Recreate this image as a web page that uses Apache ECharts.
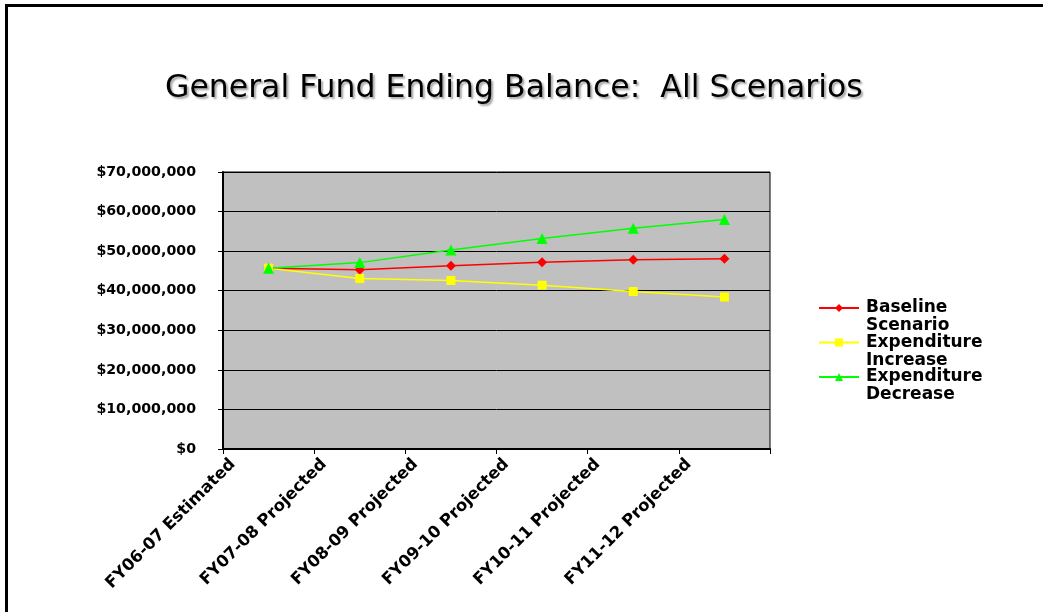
<!DOCTYPE html>
<html>
<head>
<meta charset="utf-8">
<script src="https://cdn.jsdelivr.net/npm/echarts@6/dist/echarts.min.js"></script>
<style>
  html, body { margin: 0; padding: 0; background: #fff; }
  #chart { position: absolute; left: 0; top: 0; width: 1043px; height: 612px; }
  #frame { position: absolute; left: 5px; top: 4px; width: 1100px; height: 700px;
           border-top: 3px solid #000; border-left: 3px solid #000; pointer-events: none; }
</style>
</head>
<body>
<div id="chart"></div>
<div id="frame"></div>
<script>
const categories = ['FY06-07 Estimated', 'FY07-08 Projected', 'FY08-09 Projected',
                    'FY09-10 Projected', 'FY10-11 Projected', 'FY11-12 Projected'];
const baseline = [45700000, 45300000, 46300000, 47200000, 47800000, 48100000];
const expIncrease = [45700000, 43100000, 42600000, 41400000, 39800000, 38400000];
const expDecrease = [45700000, 47100000, 50300000, 53200000, 55800000, 58000000];
const yTicks = { min: 0, max: 70000000, interval: 10000000 };

const boldFont = 'DejaVu Sans';
const chart = echarts.init(document.getElementById('chart'));

function money(v) {
  return '$' + String(Math.round(v)).replace(/\B(?=(\d{3})+(?!\d))/g, ',');
}

chart.setOption({
  backgroundColor: '#ffffff',
  animation: false,
  title: {
    text: 'General Fund Ending Balance:  All Scenarios',
    left: 165,
    top: 73,
    padding: 0,
    textStyle: {
      fontFamily: 'DejaVu Sans', fontWeight: 'normal', fontSize: 31.5, color: '#000',
      textShadowColor: 'rgba(0,0,0,0.35)', textShadowOffsetX: 2, textShadowOffsetY: 2, textShadowBlur: 2
    }
  },
  grid: {
    left: 223, top: 172, width: 547, height: 277,
    show: true, backgroundColor: '#C0C0C0', borderColor: '#000', borderWidth: 1
  },
  legend: {
    orient: 'vertical',
    left: 818,
    top: 281,
    padding: 0,
    itemWidth: 40,
    itemHeight: 10,
    itemGap: -19.5,
    data: ['Baseline Scenario', 'Expenditure Increase', 'Expenditure Decrease'],
    formatter: function (name) { return '\n' + name.replace(' ', '\n'); },
    textStyle: {
      fontFamily: boldFont, fontWeight: 'bold', fontSize: 17, color: '#000',
      lineHeight: 18, padding: [0, 0, 0, 2]
    }
  },
  xAxis: {
    type: 'category',
    data: categories,
    boundaryGap: true,
    axisLine: { show: true, lineStyle: { color: '#000', width: 2 } },
    axisTick: { show: true, inside: false, length: 5, lineStyle: { color: '#000', width: 1 } },
    axisLabel: {
      interval: 0, rotate: 45, margin: -35,
      align: 'right', verticalAlign: 'top',
      padding: [0, 59, 0, 0],
      fontFamily: boldFont, fontWeight: 'bold', fontSize: 16.5, color: '#000'
    },
    splitLine: { show: false }
  },
  yAxis: {
    type: 'value',
    min: yTicks.min, max: yTicks.max, interval: yTicks.interval,
    axisLine: { show: true, lineStyle: { color: '#000', width: 2 } },
    axisTick: { show: true, inside: false, length: 5, lineStyle: { color: '#000', width: 1 } },
    axisLabel: {
      margin: 27, formatter: money,
      fontFamily: boldFont, fontWeight: 'bold', fontSize: 14.2, color: '#000'
    },
    splitLine: { show: true, lineStyle: { color: '#000', width: 1 } }
  },
  series: [
    {
      name: 'Baseline Scenario', type: 'line', data: baseline,
      symbol: 'diamond', symbolSize: 10,
      lineStyle: { color: '#FF0000', width: 1.5 },
      itemStyle: { color: '#FF0000' }
    },
    {
      name: 'Expenditure Increase', type: 'line', data: expIncrease,
      symbol: 'rect', symbolSize: 9,
      lineStyle: { color: '#FFFF00', width: 1.5 },
      itemStyle: { color: '#FFFF00' }
    },
    {
      name: 'Expenditure Decrease', type: 'line', data: expDecrease,
      symbol: 'triangle', symbolSize: 11,
      lineStyle: { color: '#00FF00', width: 1.5 },
      itemStyle: { color: '#00FF00' }
    }
  ]
});
</script>
</body>
</html>
